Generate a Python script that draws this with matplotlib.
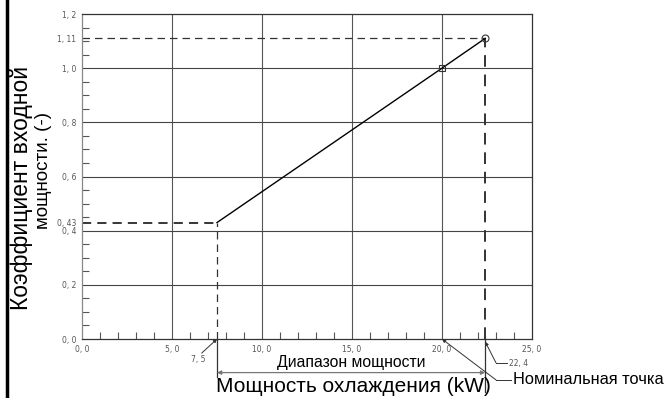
import matplotlib
matplotlib.use("Agg")
import matplotlib.pyplot as plt
from matplotlib.ticker import MultipleLocator
from matplotlib.lines import Line2D

# Данные графика
capacity = [7.5, 20.0, 22.4]          # кВт
coef = [0.43, 1.00, 1.11]             # коэффициент входной мощности
grid_x = [5, 10, 15, 20]
grid_y = [0.2, 0.4, 0.6, 0.8, 1.0]
xticks = [0, 5, 10, 15, 20, 25]
xlabels = ["0, 0", "5, 0", "10, 0", "15, 0", "20, 0", "25, 0"]
yticks = [0, 0.2, 0.4, 0.43, 0.6, 0.8, 1.0, 1.11, 1.2]
ylabels = ["0, 0", "0, 2", "0, 4", "0, 43", "0, 6", "0, 8", "1, 0", "1, 11", "1, 2"]

fig = plt.figure(figsize=(6.66, 3.98), dpi=100)
ax = fig.add_axes([0.1231, 0.1482, 0.6757, 0.8166])
ax.set_xlim(0, 25)
ax.set_ylim(0, 1.2)

# сетка
for gx in grid_x:
    ax.axvline(gx, color="#555555", lw=0.8, zorder=1)
for gy in grid_y:
    ax.axhline(gy, color="#444444", lw=0.8, zorder=1)

# тики
ax.set_xticks(xticks)
ax.set_xticklabels(xlabels)
ax.set_yticks(yticks)
ax.set_yticklabels(ylabels)
ax.xaxis.set_minor_locator(MultipleLocator(1))
ax.yaxis.set_minor_locator(MultipleLocator(0.05))
ax.tick_params(which="major", length=0, labelsize=5.5, labelcolor="#555555", pad=4)
ax.tick_params(which="minor", direction="in", length=5, width=0.8, color="#555555")
for sp in ax.spines.values():
    sp.set_linewidth(0.9)
    sp.set_color("#333333")
ax.spines["left"].set_color("#888888")

# пунктирные проекции
ax.plot([0, capacity[0]], [coef[0], coef[0]], ls=(0, (6, 4)), color="black", lw=1.1)
ax.plot([capacity[0], capacity[0]], [0, coef[0]], ls=(0, (6, 4)), color="#333333", lw=0.9)
ax.plot([0, capacity[-1]], [coef[-1], coef[-1]], ls=(0, (6, 4)), color="#333333", lw=0.9)
ax.plot([capacity[-1], capacity[-1]], [0, coef[-1]], ls=(0, (6, 4)), color="#333333", lw=1.4)

# основная линия
ax.plot(capacity, coef, color="black", lw=1.0, zorder=3)
ax.plot([capacity[1]], [coef[1]], marker="s", ms=5, mfc="none", mec="#333333", mew=0.8, zorder=4)
ax.plot([capacity[-1]], [coef[-1]], marker="o", ms=5, mfc="none", mec="#333333", mew=0.8, zorder=4)

# выносные линии под осью
ax.plot([capacity[0], capacity[0]], [0, -0.14], color="#333333", lw=0.9, clip_on=False)
ax.plot([capacity[-1], capacity[-1]], [0, -0.194], color="#333333", lw=0.9, clip_on=False)

# размерная стрелка
ax.annotate("", xy=(capacity[0], -0.124), xytext=(capacity[-1], -0.124),
            arrowprops=dict(arrowstyle="<|-|>", color="#777777", lw=0.9,
                            mutation_scale=6, shrinkA=0, shrinkB=0),
            annotation_clip=False)
ax.text((capacity[0] + capacity[-1]) / 2, -0.087, "Диапазон мощности",
        ha="center", va="center", fontsize=11.3, family="Liberation Sans")

# выноски
leader = dict(arrowstyle="-|>", color="#333333", lw=0.7, mutation_scale=5,
              shrinkA=0, shrinkB=0)
ax.annotate("", xy=(capacity[0], 0), xytext=(6.65, -0.052),
            arrowprops=leader, annotation_clip=False)
ax.text(6.45, -0.075, "7, 5", fontsize=5.5, color="#555555", ha="center", va="center")

ax.annotate("", xy=(capacity[-1], -0.01), xytext=(23.0, -0.088),
            arrowprops=leader, annotation_clip=False)
ax.plot([23.0, 23.6], [-0.088, -0.088], color="#333333", lw=0.7, clip_on=False)
ax.text(23.7, -0.09, "22, 4", fontsize=5.5, color="#555555", ha="left", va="center")

ax.annotate("", xy=(capacity[1], 0), xytext=(23.0, -0.151),
            arrowprops=leader, annotation_clip=False)
ax.plot([23.0, 23.85], [-0.151, -0.151], color="#333333", lw=0.7, clip_on=False)
ax.text(23.95, -0.151, "Номинальная точка", fontsize=11.8, ha="left", va="center",
        family="Liberation Sans")

# подписи осей
fig.text(0.531, 0.014, "Мощность охлаждения (kW)", ha="center", va="baseline",
         fontsize=15, family="Liberation Sans")
fig.text(0.033, 1 - 188 / 398, "Коэффициент входной", ha="center", va="center",
         rotation=90, fontsize=16.5, family="Liberation Sans")
fig.text(0.065, 1 - 171 / 398, "мощности. (-)", ha="center", va="center",
         rotation=90, fontsize=13.5, family="Liberation Sans")

# рамка слева
fig.add_artist(Line2D([0.0105, 0.0105], [0, 1], transform=fig.transFigure,
                      color="black", lw=2.5))

fig.savefig("out.png", dpi=100)
